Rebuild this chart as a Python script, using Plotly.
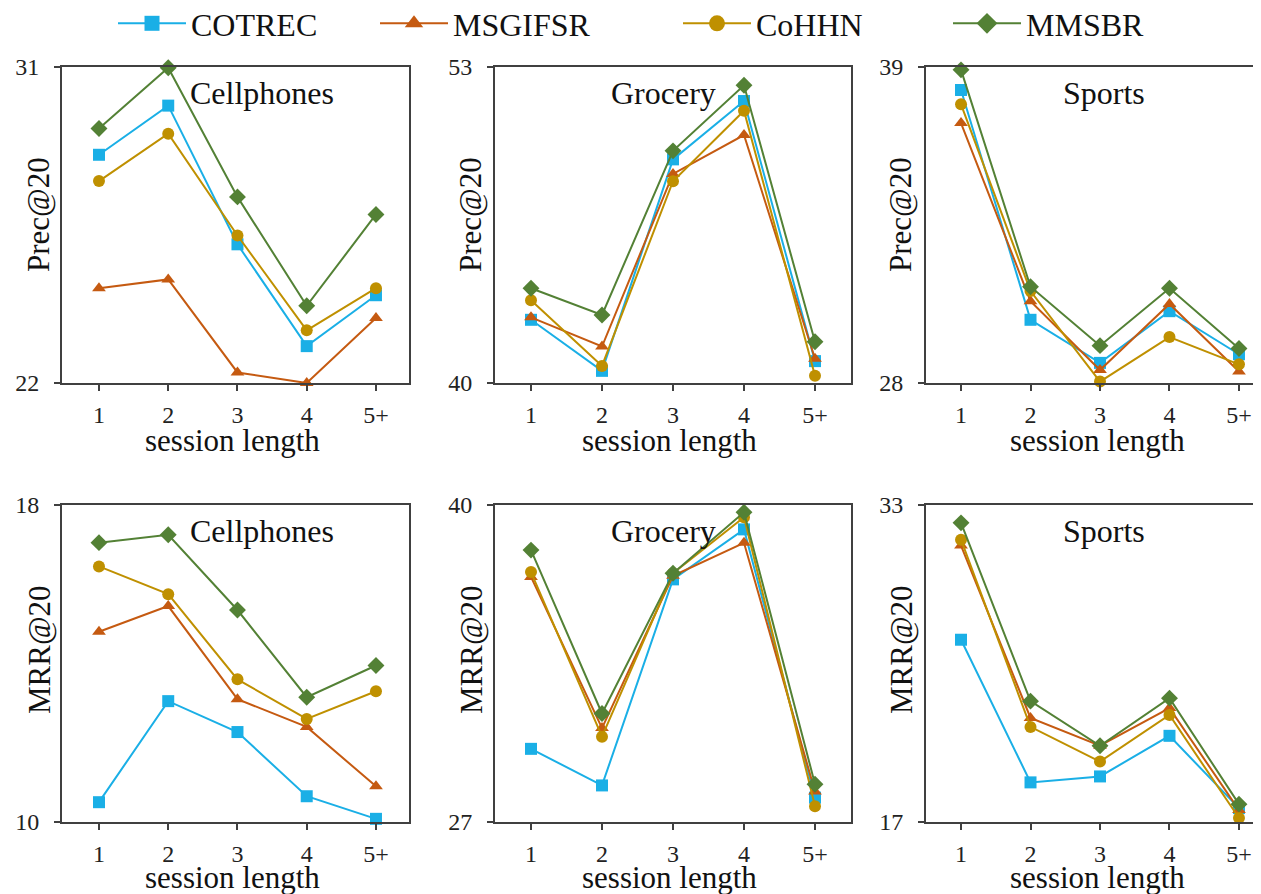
import plotly.graph_objects as go

# The page body adds an 8px margin, so the figure is sized to fill the rest of the window.
OFF = 8
W, H = 1261 - OFF, 894 - OFF
FONT = "Liberation Serif, Times New Roman, serif"

session_lengths = [1, 2, 3, 4, 5]
session_labels = ["1", "2", "3", "4", "5+"]

models = ["COTREC", "MSGIFSR", "CoHHN", "MMSBR"]
colors = {"COTREC": "#1AAFE6", "MSGIFSR": "#C55A11", "CoHHN": "#BF9000", "MMSBR": "#538135"}
symbols = {"COTREC": "square", "MSGIFSR": "triangle-up", "CoHHN": "circle", "MMSBR": "diamond"}
msizes = {"COTREC": 12, "MSGIFSR": 12, "CoHHN": 12, "MMSBR": 13}
legend_msizes = {"COTREC": 15, "MSGIFSR": 17, "CoHHN": 17, "MMSBR": 17}

# Prec@20
cotrec_prec_cell = [28.5, 29.9, 25.95, 23.05, 24.5]
msgifsr_prec_cell = [24.7, 24.95, 22.3, 22.0, 23.85]
cohhn_prec_cell = [27.75, 29.1, 26.2, 23.5, 24.7]
mmsbr_prec_cell = [29.25, 30.98, 27.3, 24.2, 26.8]

cotrec_prec_groc = [42.6, 40.5, 49.2, 51.6, 40.9]
msgifsr_prec_groc = [42.7, 41.5, 48.6, 50.2, 41.0]
cohhn_prec_groc = [43.4, 40.7, 48.3, 51.2, 40.3]
mmsbr_prec_groc = [43.9, 42.8, 49.55, 52.25, 41.7]

cotrec_prec_sport = [38.2, 30.2, 28.7, 30.5, 29.0]
msgifsr_prec_sport = [37.05, 30.85, 28.45, 30.75, 28.4]
cohhn_prec_sport = [37.7, 31.2, 28.05, 29.6, 28.65]
mmsbr_prec_sport = [38.9, 31.35, 29.3, 31.3, 29.2]

# MRR@20
cotrec_mrr_cell = [10.5, 13.05, 12.27, 10.65, 10.08]
msgifsr_mrr_cell = [14.8, 15.45, 13.1, 12.4, 10.9]
cohhn_mrr_cell = [16.45, 15.75, 13.6, 12.6, 13.3]
mmsbr_mrr_cell = [17.05, 17.25, 15.35, 13.15, 13.95]

cotrec_mrr_groc = [30.0, 28.5, 36.95, 39.0, 28.0]
msgifsr_mrr_groc = [37.05, 30.85, 37.1, 38.45, 28.25]
cohhn_mrr_groc = [37.25, 30.5, 37.2, 39.5, 27.65]
mmsbr_mrr_groc = [38.15, 31.45, 37.2, 39.7, 28.55]

cotrec_mrr_sport = [26.2, 19.0, 19.3, 21.35, 17.7]
msgifsr_mrr_sport = [30.95, 22.25, 20.85, 22.75, 17.6]
cohhn_mrr_sport = [31.25, 21.8, 20.05, 22.4, 17.2]
mmsbr_mrr_sport = [32.1, 23.1, 20.85, 23.25, 17.9]

datasets = ["Cellphones", "Grocery", "Sports"]
metrics = ["Prec@20", "MRR@20"]
y_limits = [[(22, 31), (40, 53), (28, 39)], [(10, 18), (27, 40), (17, 33)]]

panel_data = [
    [
        [cotrec_prec_cell, msgifsr_prec_cell, cohhn_prec_cell, mmsbr_prec_cell],
        [cotrec_prec_groc, msgifsr_prec_groc, cohhn_prec_groc, mmsbr_prec_groc],
        [cotrec_prec_sport, msgifsr_prec_sport, cohhn_prec_sport, mmsbr_prec_sport],
    ],
    [
        [cotrec_mrr_cell, msgifsr_mrr_cell, cohhn_mrr_cell, mmsbr_mrr_cell],
        [cotrec_mrr_groc, msgifsr_mrr_groc, cohhn_mrr_groc, mmsbr_mrr_groc],
        [cotrec_mrr_sport, msgifsr_mrr_sport, cohhn_mrr_sport, mmsbr_mrr_sport],
    ],
]

# layout geometry in window pixels
col_px = [(62, 409), (495, 851), (926, 1261)]
col_xrange = [(0.466, 5.477), (0.493, 5.507), (0.496, 5.317)]
row_px = [(67, 383), (505, 822)]


def px(x):
    return (x - OFF) / W


def py(y):
    return 1 - (y - OFF) / H


fig = go.Figure()
layout = dict()
annotations = []

legend_names = ["legend", "legend2", "legend3", "legend4"]

k = 0
for r in range(2):
    for c in range(3):
        k += 1
        xa = "x" if k == 1 else f"x{k}"
        ya = "y" if k == 1 else f"y{k}"
        for mi, m in enumerate(models):
            fig.add_trace(go.Scatter(
                x=session_lengths, y=panel_data[r][c][mi], name=m,
                mode="lines+markers", xaxis=xa, yaxis=ya,
                line=dict(color=colors[m], width=2),
                marker=dict(color=colors[m], symbol=symbols[m], size=msizes[m]),
                cliponaxis=False, showlegend=False,
            ))
        lo, hi = y_limits[r][c]
        axis_common = dict(
            showline=True, linecolor="#404040", linewidth=2, mirror=True,
            showgrid=False, zeroline=False, ticks="outside", ticklen=6,
            tickcolor="#404040", tickwidth=1.5,
        )
        layout["xaxis" if k == 1 else f"xaxis{k}"] = dict(
            domain=[px(col_px[c][0]), min(1.0, px(col_px[c][1]))],
            range=list(col_xrange[c]), anchor=ya,
            tickvals=session_lengths, ticktext=session_labels,
            tickfont=dict(family=FONT, size=24, color="#222"),
            ticklabelstandoff=3,
            **axis_common,
        )
        layout["yaxis" if k == 1 else f"yaxis{k}"] = dict(
            domain=[py(row_px[r][1]), py(row_px[r][0])],
            range=[lo, hi], anchor=xa,
            tickvals=[lo, hi], ticktext=[str(lo), str(hi)],
            tickfont=dict(family=FONT, size=24, color="#222"),
            ticklabelstandoff=10,
            **axis_common,
        )

# legend-only entries (larger symbols, as in the reference legend)
for mi, m in enumerate(models):
    fig.add_trace(go.Scatter(
        x=[None], y=[None], name=m, mode="lines+markers",
        line=dict(color=colors[m], width=2),
        marker=dict(color=colors[m], symbol=symbols[m], size=legend_msizes[m]),
        showlegend=True, legend=legend_names[mi],
    ))

# text annotations
label_cx = [262, 663, 1104]
label_cy = [93, 531]
ytitle_cx = [39, 471, 901]
ytitle_cy = [215, 650]
xtitle_cx = [232, 669, 1097]
xtitle_cy = [441, 877]
for r in range(2):
    for c in range(3):
        annotations.append(dict(
            x=px(label_cx[c]), y=py(label_cy[r]), xref="paper", yref="paper",
            text=datasets[c], showarrow=False,
            font=dict(family=FONT, size=32, color="#111"),
            xanchor="center", yanchor="middle",
        ))
        annotations.append(dict(
            x=px(ytitle_cx[c]), y=py(ytitle_cy[r]), xref="paper", yref="paper",
            text=metrics[r], showarrow=False, textangle=-90,
            font=dict(family=FONT, size=31, color="#111"),
            xanchor="center", yanchor="middle",
        ))
        annotations.append(dict(
            x=px(xtitle_cx[c]), y=py(xtitle_cy[r]), xref="paper", yref="paper",
            text="session length", showarrow=False,
            font=dict(family=FONT, size=31, color="#111"),
            xanchor="center", yanchor="middle",
        ))

legend_x = [113, 375, 678, 948]
for i, ln in enumerate(legend_names):
    layout[ln] = dict(
        x=px(legend_x[i]), y=1 + 12 / H, xanchor="left", yanchor="top",
        orientation="h", font=dict(family=FONT, size=32, color="#111"),
        bgcolor="rgba(0,0,0,0)", itemwidth=68,
    )

fig.update_layout(
    width=W, height=H, margin=dict(l=0, r=0, t=0, b=0, autoexpand=False),
    paper_bgcolor="white", plot_bgcolor="white",
    annotations=annotations, **layout,
)

fig.write_html("out.html")
